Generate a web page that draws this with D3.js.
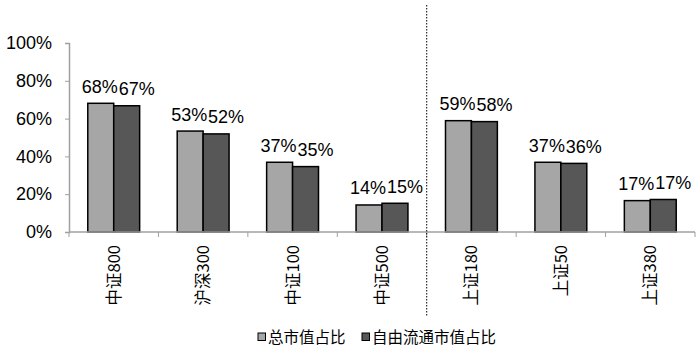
<!DOCTYPE html>
<html><head><meta charset="utf-8">
<script src="https://cdn.jsdelivr.net/npm/d3@7"></script>
<style>
html,body{margin:0;padding:0;background:#fff;}
svg{display:block;font-family:Arial,"Liberation Sans",sans-serif;}
</style></head>
<body>
<svg id="c" width="700" height="354"></svg>
<script>
const categories = ["中证800","沪深300","中证100","中证500","上证180","上证50","上证380"];
const totalShare = [0.681, 0.534, 0.369, 0.143, 0.589, 0.369, 0.166];
const freeShare  = [0.668, 0.519, 0.346, 0.152, 0.584, 0.363, 0.172];
const seriesNames = ["总市值占比","自由流通市值占比"];
const yTicks = [0, 0.2, 0.4, 0.6, 0.8, 1.0];
const dividerAfter = "中证500";

const colors = ["#a6a6a6", "#575757"];
const svg = d3.select("#c");
const x0 = d3.scaleBand().domain(categories).range([69, 695]).paddingInner(0.42).paddingOuter(0.21);
const x1 = d3.scaleBand().domain([0,1]).range([0, x0.bandwidth()]);
const y = d3.scaleLinear().domain([0, 1]).range([232, 43]);
const fmt = d3.format(".0%");

// Y axis
const yAxis = svg.append("g").attr("transform","translate(69,0)")
  .call(d3.axisLeft(y).tickValues(yTicks).tickFormat(fmt).tickSize(4).tickPadding(13));
yAxis.select(".domain").attr("stroke","#a0a0a0").attr("stroke-width",1.5);
yAxis.selectAll(".tick line").attr("stroke","#a0a0a0");
yAxis.selectAll(".tick text").attr("font-size",18).attr("fill","#000").attr("font-family","Arial,'Liberation Sans',sans-serif");

// bars
const data = categories.map((c,i)=>({c, v:[totalShare[i], freeShare[i]]}));
const g = svg.append("g");
data.forEach(d=>{
  d.v.forEach((v,j)=>{
    g.append("rect")
      .attr("x", x0(d.c)+x1(j))
      .attr("y", y(v))
      .attr("width", x1.bandwidth())
      .attr("height", y(0)-y(v))
      .attr("fill", colors[j])
      .attr("stroke","#000").attr("stroke-width",1.5);
    g.append("text")
      .attr("x", x0(d.c)+x1(j)+x1.bandwidth()/2 + (j===0 ? -1 : 10))
      .attr("y", y(v)-10.5)
      .attr("text-anchor","middle")
      .attr("font-size",18)
      .attr("fill","#000")
      .text(fmt(v));
  });
});

// X axis
const step = x0.step();
const xAxis = svg.append("g").attr("transform","translate(0,232)");
xAxis.append("line").attr("x1",69).attr("x2",695).attr("y1",0).attr("y2",0)
  .attr("stroke","#a0a0a0").attr("stroke-width",1.5);
d3.range(categories.length+1).forEach(i=>{
  const xx = 69 + i*step;
  xAxis.append("line").attr("x1",xx).attr("x2",xx).attr("y1",0).attr("y2",5)
    .attr("stroke","#a0a0a0").attr("stroke-width",1);
});
categories.forEach(c=>{
  const cx = x0(c)+x0.bandwidth()/2;
  xAxis.append("text")
    .attr("transform",`translate(${cx+6},13) rotate(-90)`)
    .attr("text-anchor","end")
    .attr("font-size",16.5)
    .attr("font-family","'Noto Sans CJK SC',Arial,sans-serif")
    .attr("fill","#000")
    .text(c);
});

// divider
const dx = x0(dividerAfter) + x0.bandwidth() + (step - x0.bandwidth())/2;
svg.append("line").attr("x1",dx).attr("x2",dx).attr("y1",5).attr("y2",317)
  .attr("stroke","#000").attr("stroke-width",1).attr("stroke-dasharray","1.5,1.5");

// legend
const legendX = [258, 362];
seriesNames.forEach((n,i)=>{
  svg.append("rect").attr("x",legendX[i]).attr("y",333).attr("width",7.5).attr("height",7.5)
    .attr("fill",colors[i]).attr("stroke","#000").attr("stroke-width",1);
  svg.append("text").attr("x",legendX[i]+10).attr("y",342.5)
    .attr("font-size",15.5)
    .attr("font-family","'Noto Sans CJK SC',Arial,sans-serif")
    .attr("fill","#000").text(n);
});
</script>
</body></html>
